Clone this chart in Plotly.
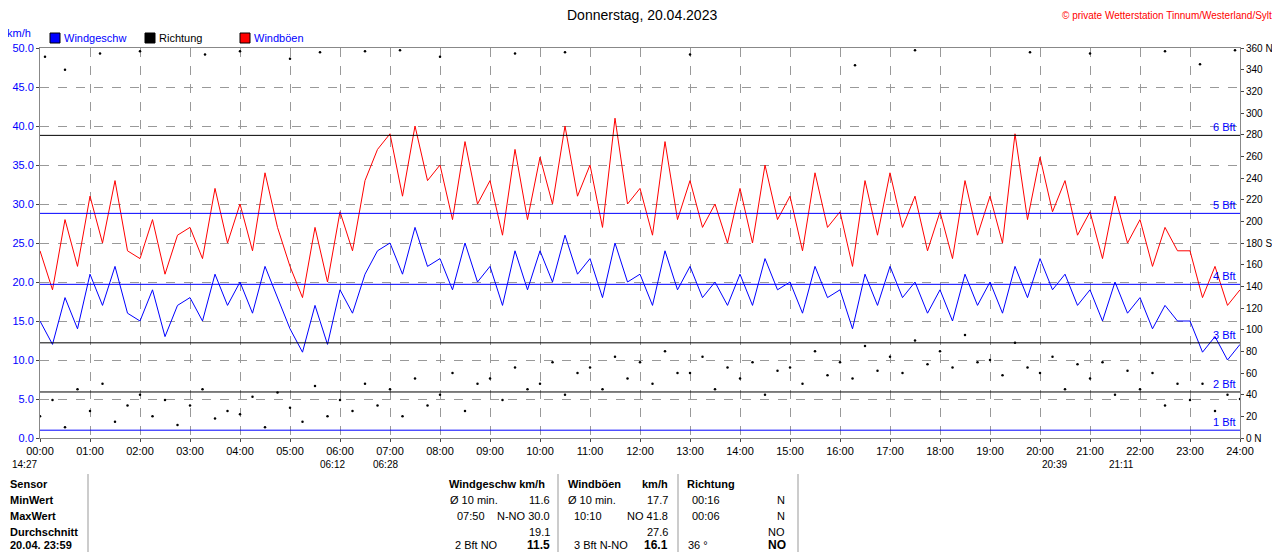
import plotly.graph_objects as go

hours = [i/4 for i in range(97)]
wind = [15,12,18,14, 21,17,22,16, 15,19,13,17, 18,15,21,17, 20,16,22,18, 14,11,17,12,
        19,16,21,24, 25,21,27,22, 23,19,25,20, 22,17,24,19, 24,20,26,21, 23,18,25,20,
        21,17,24,19, 22,18,20,17, 21,17,23,19, 20,16,22,18, 19,14,21,17, 22,18,20,16,
        19,15,21,17, 20,16,22,18, 23,19,21,17, 19,15,20,16, 18,14,17,15, 15,11,13,10, 12]
gust = [24,19,28,22, 31,25,33,24, 23,28,21,26, 27,23,32,25, 30,24,34,27, 22,18,27,20,
        29,24,33,37, 39,31,40,33, 35,28,38,30, 33,26,37,28, 36,30,40,31, 35,27,41,30,
        32,26,38,28, 33,27,30,25, 32,25,35,28, 31,24,34,27, 29,22,33,26, 34,27,31,24,
        29,23,33,26, 31,25,39,28, 36,29,33,26, 29,23,31,25, 28,22,27,24, 24,18,22,17, 19]
direction = [20,35,10,45, 25,50,15,30, 40,20,35,12, 30,45,18,25, 22,38,10,42, 28,15,48,20,
             35,25,50,30, 45,20,55,30, 40,60,25,50, 55,35,65,45, 50,70,40,60, 65,45,75,55,
             70,50,80,60, 60,75,45,65, 55,70,40,62, 65,50,80,58, 70,55,85,62, 75,60,90,68,
             80,65,95,70, 72,58,88,65, 60,75,45,68, 55,70,40,62, 45,60,30,50, 35,50,25,40, 36]
north_t = [0.1,0.5,1.2,2.0,3.3,4.0,5.0,5.6,6.5,7.2,8.0,9.5,10.5,13.0,16.3,17.5,19.8,21.0,22.5,23.2,23.9]
north_d = [352,340,355,357,354,357,350,356,357,358,352,355,356,354,344,358,356,355,357,345,358]

bft_vals = [1.0, 5.9, 12.2, 19.7, 28.8, 38.8]
bft_labels = ["1 Bft","2 Bft","3 Bft","4 Bft","5 Bft","6 Bft"]
bft_colors = ["blue","black","black","blue","blue","black"]

xticks = list(range(25))
xlabels = ["%02d:00" % h for h in xticks]
dticks = list(range(0, 361, 20))
dlabels = [("%d N" % d) if d in (0, 360) else ("%d S" % d if d == 180 else str(d)) for d in dticks]

F = "Liberation Sans"
fig = go.Figure()
fig.add_trace(go.Scatter(x=hours, y=gust, mode="lines", line=dict(color="#ff0000", width=1), yaxis="y"))
fig.add_trace(go.Scatter(x=hours, y=wind, mode="lines", line=dict(color="#0000ff", width=1), yaxis="y"))
fig.add_trace(go.Scatter(x=hours, y=direction, mode="markers", marker=dict(color="black", size=2.5), yaxis="y2"))
fig.add_trace(go.Scatter(x=north_t, y=north_d, mode="markers", marker=dict(color="black", size=2.5), yaxis="y2"))

shapes = []
anns = []
for v, lab, c in zip(bft_vals, bft_labels, bft_colors):
    shapes.append(dict(type="line", xref="x", yref="y", x0=0, x1=24, y0=v, y1=v, line=dict(color=c, width=1)))
    anns.append(dict(x=23.95, y=v, xref="x", yref="y", text=lab, showarrow=False, xanchor="right", yanchor="bottom",
                     font=dict(color="blue", size=11, family=F)))

def px(x, y):
    return (x - 40) / 1200, (438 - y) / 390

def txt(x, y, t, color="black", anchor="left", size=11, bold=False):
    X, Y = px(x, y)
    anns.append(dict(x=X, y=Y, xref="paper", yref="paper", text=("<b>%s</b>" % t) if bold else t, showarrow=False,
                     xanchor=anchor, yanchor="middle", font=dict(color=color, size=size, family=F)))

txt(642, 15, "Donnerstag, 20.04.2023", anchor="center", size=14)
txt(1274, 15, "© private Wetterstation Tinnum/Westerland/Sylt", color="red", anchor="right", size=10)
txt(5, 33, "km/h", color="blue")
txt(62, 38, "Windgeschw", color="blue")
txt(157, 38, "Richtung")
txt(252, 38, "Windböen", color="blue")
for x0, c in [(50, "blue"), (145, "black"), (240, "red")]:
    X0, Y0 = px(x0, 43)
    X1, Y1 = px(x0 + 10, 33)
    shapes.append(dict(type="rect", xref="paper", yref="paper", x0=X0, x1=X1, y0=Y0, y1=Y1, fillcolor=c, line=dict(color="black", width=1)))

txt(10, 464, "14:27", size=10)
txt(318, 464, "06:12", size=10)
txt(371, 464, "06:28", size=10)
txt(1040, 464, "20:39", size=10)
txt(1107, 464, "21:11", size=10)

rows = [484, 500, 516, 532, 545]
for r, t in zip(rows, ["Sensor", "MinWert", "MaxWert", "Durchschnitt", "20.04. 23:59"]):
    txt(8, r, t, bold=True)
txt(447, 484, "Windgeschw km/h", bold=True)
txt(566, 484, "Windböen", bold=True)
txt(640, 484, "km/h", bold=True)
txt(685, 484, "Richtung", bold=True)
cells = [(448, 500, "Ø 10 min.", "left"), (552, 500, "11.6", "right"), (566, 500, "Ø 10 min.", "left"), (670, 500, "17.7", "right"),
         (690, 500, "00:16", "left"), (787, 500, "N", "right"),
         (455, 516, "07:50", "left"), (552, 516, "N-NO 30.0", "right"), (572, 516, "10:10", "left"), (670, 516, "NO 41.8", "right"),
         (690, 516, "00:06", "left"), (787, 516, "N", "right"),
         (552, 532, "19.1", "right"), (670, 532, "27.6", "right"), (787, 532, "NO", "right"),
         (453, 545, "2 Bft NO", "left"), (572, 545, "3 Bft N-NO", "left"), (686, 545, "36 °", "left")]
for x, y, t, a in cells:
    txt(x, y, t, anchor=a)
txt(552, 545, "11.5", anchor="right", bold=True, size=12)
txt(670, 545, "16.1", anchor="right", bold=True, size=12)
txt(788, 545, "NO", anchor="right", bold=True, size=12)
for xv in [88, 558, 678, 798]:
    X, _ = px(xv, 0)
    _, Y0 = px(0, 474)
    _, Y1 = px(0, 552)
    shapes.append(dict(type="line", xref="paper", yref="paper", x0=X, x1=X, y0=Y0, y1=Y1, line=dict(color="#999", width=1)))

grid = dict(showgrid=True, gridcolor="#999", griddash="dash", gridwidth=1)
fig.update_layout(
    width=1272, height=544, margin=dict(l=32, r=40, t=40, b=114, autoexpand=False),
    paper_bgcolor="white", plot_bgcolor="white", showlegend=False,
    font=dict(family=F, size=11, color="black"),
    xaxis=dict(range=[0, 24], tickvals=xticks, ticktext=xlabels, ticks="outside", ticklen=3, showline=True,
               linecolor="#888", mirror=True, tickfont=dict(size=11), **grid),
    yaxis=dict(range=[0, 50], dtick=5, tickformat=".1f", ticks="outside", ticklen=3, tickfont=dict(color="blue", size=11),
               showline=True, linecolor="#888", **grid),
    yaxis2=dict(range=[0, 360], overlaying="y", side="right", tickvals=dticks, ticktext=dlabels, ticks="outside", ticklen=3,
                showgrid=False, tickfont=dict(size=10), showline=True, linecolor="#888"),
    shapes=shapes, annotations=anns,
)
fig.write_html("out.html")
